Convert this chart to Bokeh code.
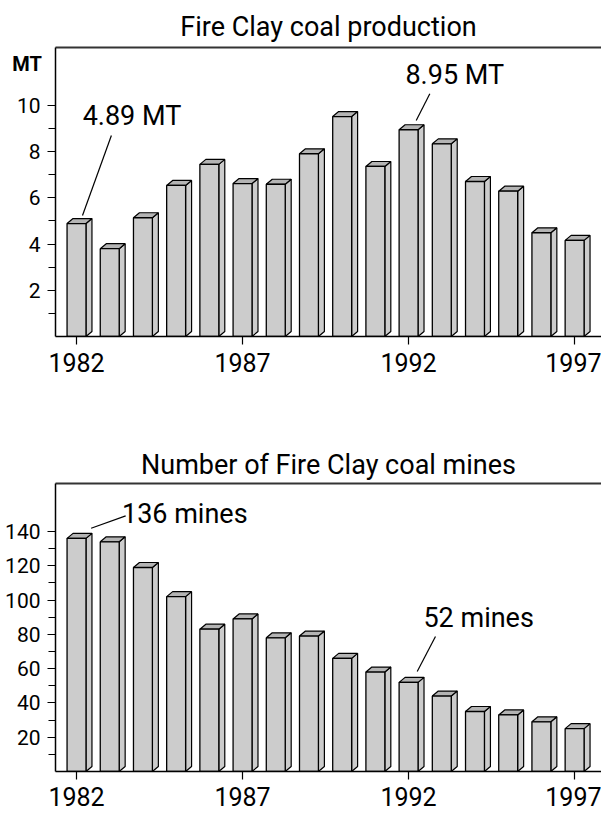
import numpy as np
from bokeh.plotting import figure
from bokeh.models import FixedTicker, LinearAxis, Label, Range1d, Title
from bokeh.layouts import column
from bokeh.embed import file_html
from bokeh.resources import INLINE

FONT = "Roboto"

# ---- data ----
years = [1982, 1983, 1984, 1985, 1986, 1987, 1988, 1989,
         1990, 1991, 1992, 1993, 1994, 1995, 1996, 1997]
production_mt = [4.89, 3.80, 5.14, 6.54, 7.45, 6.62, 6.59, 7.91,
                 9.52, 7.36, 8.95, 8.34, 6.71, 6.29, 4.49, 4.16]
mine_counts = [136, 134, 119, 102, 83, 89, 78, 79,
               66, 58, 52, 44, 35, 33, 29, 25]
year_ticks = [1982, 1987, 1992, 1997]
prod_ticks = [2, 4, 6, 8, 10]
prod_minor_ticks = [1, 3, 5, 7, 9]
mine_ticks = [20, 40, 60, 80, 100, 120, 140]
mine_minor_ticks = [10, 30, 50, 70, 90, 110, 130]
prod_title = "Fire Clay coal production"
mine_title = "Number of Fire Clay coal mines"
prod_unit = "MT"
prod_note_years = [1982, 1992]
prod_note_texts = ["4.89 MT", "8.95 MT"]
mine_note_years = [1982, 1992]
mine_note_texts = ["136 mines", "52 mines"]

# ---- style ----
X_START, X_END = 1981.367, 1997.81
BAR_W = 0.57
DEPTH_X = 0.18
FRONT = "#cccccc"
SIDE = "#cccccc"
TOPC = "#b4b4b4"
UNIT_POS = (1980.51, 11.80)   # where the unit label sits (left margin)

# annotation offsets relative to the annotated bar (dx years, dy value units)
# (leader start dx, dy, leader end dx, dy, text-centre dx, dy)
prod_note_offsets = [(0.18, 0.35, 1.05, 3.81, 1.67, 4.66),
                     (0.23, 0.40, 0.64, 1.56, 1.39, 2.38)]
mine_note_offsets = [(0.44, 5.9, 1.48, 13.1, 3.26, 14.3),
                     (0.26, 6.3, 0.81, 26.7, 2.11, 37.6)]


def make_chart(vals, y_end, depth_y, ticks, minor, title, height,
               border_top, border_bottom, title_standoff, x_standoff,
               note_years, note_texts, note_offsets):
    p = figure(width=601, height=height,
               x_range=Range1d(X_START, X_END), y_range=Range1d(0, y_end),
               output_backend="svg", toolbar_location=None, title=None,
               min_border_left=55, min_border_right=0,
               min_border_top=border_top, min_border_bottom=border_bottom,
               outline_line_color=None)
    p.xgrid.visible = False
    p.ygrid.visible = False

    xa = p.xaxis[0]
    xa.ticker = FixedTicker(ticks=year_ticks, minor_ticks=[])
    xa.major_tick_in = 0
    xa.major_tick_out = 8
    xa.minor_tick_out = 0
    xa.minor_tick_in = 0
    xa.axis_line_width = 1.5
    xa.major_tick_line_width = 1.2
    xa.major_label_text_font = FONT
    xa.major_label_text_font_size = "25px"
    xa.major_label_text_color = "black"
    xa.major_label_standoff = x_standoff

    ya = p.yaxis[0]
    ya.ticker = FixedTicker(ticks=ticks, minor_ticks=minor)
    ya.major_tick_in = 0
    ya.major_tick_out = 8
    ya.minor_tick_in = 0
    ya.minor_tick_out = 7
    ya.axis_line_width = 1.5
    ya.major_tick_line_width = 1.2
    ya.minor_tick_line_width = 1.2
    ya.major_label_text_font = FONT
    ya.major_label_text_font_size = "21px"
    ya.major_label_text_color = "black"
    ya.major_label_standoff = 7

    top_axis = LinearAxis(ticker=FixedTicker(ticks=[]),
                          major_label_text_font_size="0px",
                          major_tick_out=0, major_tick_in=0,
                          minor_tick_out=0, minor_tick_in=0,
                          major_label_standoff=0,
                          axis_line_width=2, axis_line_color="#333333")
    p.add_layout(top_axis, "above")
    p.add_layout(Title(text=title, text_font=FONT, text_font_size="27px",
                       text_font_style="normal", text_color="black",
                       align="center", standoff=title_standoff), "above")

    xs = np.array(years, dtype=float)
    vs = np.array(vals, dtype=float)
    xl = xs - BAR_W / 2
    xr = xs + BAR_W / 2
    side_xs = [[r, r + DEPTH_X, r + DEPTH_X, r] for r in xr]
    side_ys = [[0, depth_y, v + depth_y, v] for v in vs]
    top_xs = [[l, l + DEPTH_X, r + DEPTH_X, r] for l, r in zip(xl, xr)]
    top_ys = [[v, v + depth_y, v + depth_y, v] for v in vs]

    p.patches(side_xs, side_ys, fill_color=SIDE, line_color="black",
              line_width=1.2)
    p.patches(top_xs, top_ys, fill_color=TOPC, line_color="black",
              line_width=1.2)
    p.vbar(x=xs, top=vs, bottom=0, width=BAR_W, fill_color=FRONT,
           line_color="black", line_width=1.3)

    for yr, txt, off in zip(note_years, note_texts, note_offsets):
        v = vals[years.index(yr)]
        p.segment(x0=[yr + off[0]], y0=[v + off[1]],
                  x1=[yr + off[2]], y1=[v + off[3]],
                  line_color="black", line_width=1.2)
        p.add_layout(Label(x=yr + off[4], y=v + off[5], text=txt,
                           text_font=FONT, text_font_size="27px",
                           text_align="center", text_baseline="middle",
                           text_color="black"))
    return p


TOP_BELOW = 80
p1 = make_chart(production_mt, 12.51, 0.216, prod_ticks, prod_minor_ticks,
                prod_title, 47 + 289 + TOP_BELOW, 47, TOP_BELOW, 9, 8,
                prod_note_years, prod_note_texts, prod_note_offsets)

# unit label in the left margin; it lives in a side panel (below, where
# there is spare room) so that it is not clipped to the plotting frame
p1.add_layout(Label(x=UNIT_POS[0], y=UNIT_POS[1], text=prod_unit,
                    text_font=FONT, text_font_size="20px",
                    text_font_style="bold", text_align="center",
                    text_baseline="middle", text_color="black"), "below")

bottom_top = 483 - (47 + 289 + TOP_BELOW)
p2 = make_chart(mine_counts, 168.0, 2.92, mine_ticks, mine_minor_ticks,
                mine_title, 816 - (47 + 289 + TOP_BELOW), bottom_top, 45, 6, 7,
                mine_note_years, mine_note_texts, mine_note_offsets)

layout = column(p1, p2)
open("out.html", "w").write(file_html(layout, INLINE))
